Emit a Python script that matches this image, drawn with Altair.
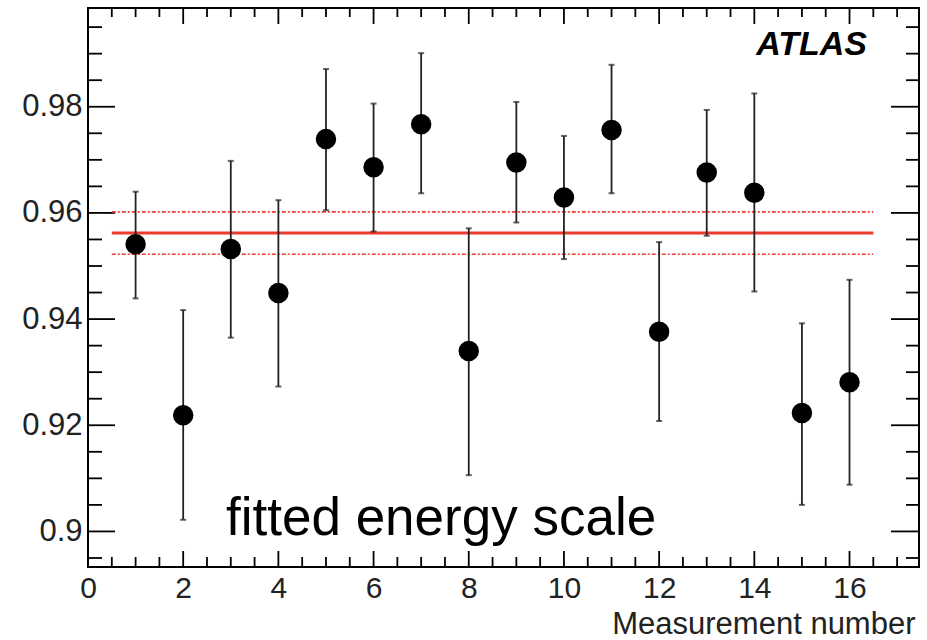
import altair as alt
import pandas as pd

# ---- data ----
measurement = [1, 2, 3, 4, 5, 6, 7, 8, 9, 10, 11, 12, 13, 14, 15, 16]
scale_value = [0.9541, 0.9219, 0.9532, 0.9449, 0.9739, 0.9686, 0.9767, 0.9340,
               0.9695, 0.9629, 0.9756, 0.9376, 0.9676, 0.9638, 0.9223, 0.9281]
err_upper = [0.9640, 0.9417, 0.9698, 0.9624, 0.9871, 0.9806, 0.9901, 0.9571,
             0.9809, 0.9745, 0.9879, 0.9545, 0.9794, 0.9825, 0.9392, 0.9474]
err_lower = [0.9439, 0.9022, 0.9365, 0.9273, 0.9605, 0.9565, 0.9637, 0.9106,
             0.9582, 0.9513, 0.9637, 0.9208, 0.9557, 0.9452, 0.9050, 0.9088]

fit_mean = [0.9562]
fit_band = [0.9522, 0.9602]
fit_range = [0.5, 16.5]

x_major = [0, 2, 4, 6, 8, 10, 12, 14, 16]
x_minor = [0.5, 1, 1.5, 2.5, 3, 3.5, 4.5, 5, 5.5, 6.5, 7, 7.5, 8.5, 9, 9.5,
           10.5, 11, 11.5, 12.5, 13, 13.5, 14.5, 15, 15.5, 16.5, 17]
y_major = [0.90, 0.92, 0.94, 0.96, 0.98]
y_minor = [0.895, 0.905, 0.91, 0.915, 0.925, 0.93, 0.935, 0.945, 0.95, 0.955,
           0.965, 0.97, 0.975, 0.985, 0.99, 0.995]

x_domain = [0, 17.46]
y_domain = [0.8933, 0.9986]

W, H = 831, 559
FONT = "Liberation Sans"

df = pd.DataFrame({"n": measurement, "v": scale_value, "hi": err_upper, "lo": err_lower})
fit_df = pd.DataFrame({"x": [fit_range[0]], "x2": [fit_range[1]], "y": fit_mean})
band_df = pd.DataFrame({"x": [fit_range[0]] * 2, "x2": [fit_range[1]] * 2, "y": fit_band})
xmaj = pd.DataFrame({"t": x_major})
xmin_ = pd.DataFrame({"t": x_minor})
ymaj = pd.DataFrame({"t": y_major})
ymin_ = pd.DataFrame({"t": y_minor})

xs = alt.Scale(domain=x_domain, nice=False, zero=False)
ys = alt.Scale(domain=y_domain, nice=False, zero=False)

base = alt.Chart(df)

points_axes = base.mark_circle(color="black", opacity=1, size=420).encode(
    x=alt.X("n:Q", scale=xs,
            axis=alt.Axis(values=x_major, ticks=False, domain=False, grid=False,
                          labelFontSize=30, labelFont=FONT, labelColor="#222",
                          labelPadding=6, labelFlush=False,
                          title="Measurement number", titleFont=FONT,
                          titleFontSize=31, titleFontWeight="normal",
                          titleColor="#222", titleAlign="right",
                          titleBaseline="alphabetic", titleX=W - 4, titleY=66)),
    y=alt.Y("v:Q", scale=ys,
            axis=alt.Axis(values=y_major, ticks=False, domain=False, grid=False,
                          format="~g", labelFontSize=31, labelFont=FONT,
                          labelColor="#222", labelPadding=6, title=None)),
)

bars = base.mark_rule(color="#222", strokeWidth=1.8).encode(
    x=alt.X("n:Q", scale=xs), y=alt.Y("lo:Q", scale=ys), y2="hi:Q")
cap_hi = base.mark_tick(color="#222", orient="horizontal", size=6, thickness=2).encode(
    x=alt.X("n:Q", scale=xs), y=alt.Y("hi:Q", scale=ys))
cap_lo = base.mark_tick(color="#222", orient="horizontal", size=6, thickness=2).encode(
    x=alt.X("n:Q", scale=xs), y=alt.Y("lo:Q", scale=ys))

fit_line = alt.Chart(fit_df).mark_rule(color="#ee3b2b", strokeWidth=3).encode(
    x=alt.X("x:Q", scale=xs), x2="x2:Q", y=alt.Y("y:Q", scale=ys))
band_lines = alt.Chart(band_df).mark_rule(color="#ee3b2b", strokeWidth=1.6,
                                          strokeDash=[4, 2, 2, 2]).encode(
    x=alt.X("x:Q", scale=xs), x2="x2:Q", y=alt.Y("y:Q", scale=ys))

tick_col = "black"
tw = 1.8
# y ticks left/right (inward)
ymaj_l = alt.Chart(ymaj).mark_rule(color=tick_col, strokeWidth=tw).encode(
    x=alt.value(0), x2=alt.value(27), y=alt.Y("t:Q", scale=ys))
ymaj_r = alt.Chart(ymaj).mark_rule(color=tick_col, strokeWidth=tw).encode(
    x=alt.value(W - 28), x2=alt.value(W), y=alt.Y("t:Q", scale=ys))
ymin_l = alt.Chart(ymin_).mark_rule(color=tick_col, strokeWidth=tw).encode(
    x=alt.value(0), x2=alt.value(14), y=alt.Y("t:Q", scale=ys))
ymin_r = alt.Chart(ymin_).mark_rule(color=tick_col, strokeWidth=tw).encode(
    x=alt.value(W - 13), x2=alt.value(W), y=alt.Y("t:Q", scale=ys))
# x ticks bottom/top (inward)
xmaj_b = alt.Chart(xmaj).mark_rule(color=tick_col, strokeWidth=tw).encode(
    y=alt.value(H), y2=alt.value(H - 16), x=alt.X("t:Q", scale=xs))
xmaj_t = alt.Chart(xmaj).mark_rule(color=tick_col, strokeWidth=tw).encode(
    y=alt.value(0), y2=alt.value(16), x=alt.X("t:Q", scale=xs))
xmin_b = alt.Chart(xmin_).mark_rule(color=tick_col, strokeWidth=tw).encode(
    y=alt.value(H), y2=alt.value(H - 10), x=alt.X("t:Q", scale=xs))
xmin_t = alt.Chart(xmin_).mark_rule(color=tick_col, strokeWidth=tw).encode(
    y=alt.value(0), y2=alt.value(9), x=alt.X("t:Q", scale=xs))

atlas = alt.Chart(pd.DataFrame({"t": ["ATLAS"]})).mark_text(
    font=FONT, fontSize=34, fontWeight="bold", fontStyle="italic",
    align="right", baseline="alphabetic", color="black").encode(
    text="t:N", x=alt.value(779), y=alt.value(47))
label = alt.Chart(pd.DataFrame({"t": ["fitted energy scale"]})).mark_text(
    font=FONT, fontSize=53, align="left", baseline="alphabetic",
    color="black").encode(text="t:N", x=alt.value(138), y=alt.value(527))

chart = alt.layer(
    ymaj_l, ymaj_r, ymin_l, ymin_r, xmaj_b, xmaj_t, xmin_b, xmin_t,
    band_lines, fit_line, bars, cap_hi, cap_lo, points_axes, atlas, label,
).properties(
    width=W, height=H,
    autosize=alt.AutoSizeParams(type="none"),
    padding={"left": 88, "top": 8, "right": 8, "bottom": 73},
    background="white",
).configure_view(stroke="black", strokeWidth=2)

chart.save("out.html", embed_options={"renderer": "svg", "actions": False})
